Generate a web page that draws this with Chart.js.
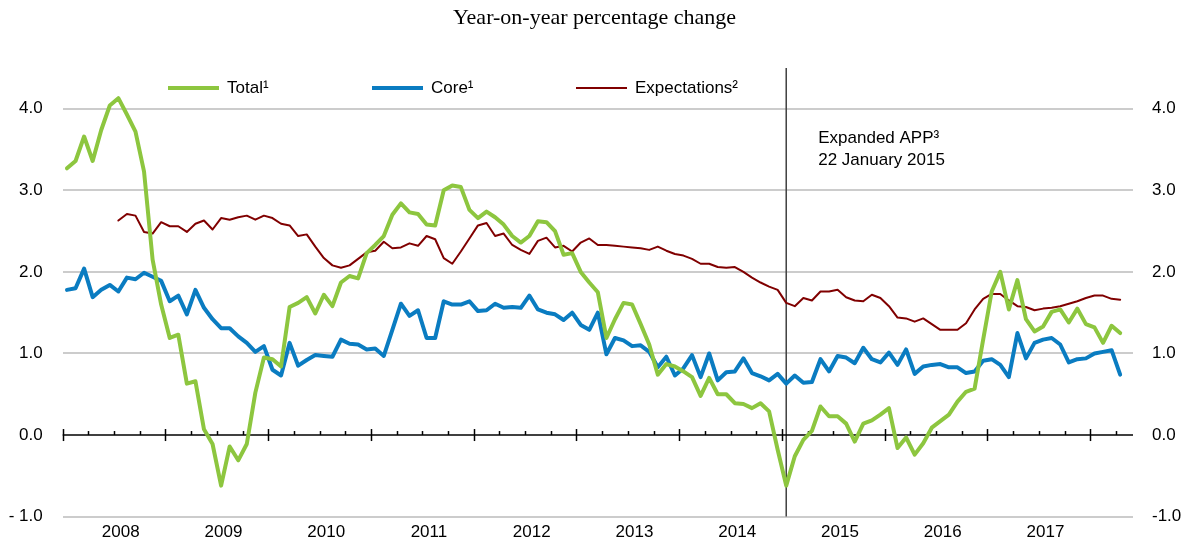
<!DOCTYPE html>
<html>
<head>
<meta charset="utf-8">
<script src="https://cdn.jsdelivr.net/npm/chart.js@4.4.1/dist/chart.umd.min.js"></script>
<style>
  html, body { margin: 0; padding: 0; background: #ffffff; }
  #wrap { width: 1189px; height: 547px; }
</style>
</head>
<body>
<div id="wrap"><canvas id="c" width="1189" height="547"></canvas></div>
<script>
// ---- data (monthly, Jan 2008 .. Apr 2018) ----
const yearLabels = ['2008','2009','2010','2011','2012','2013','2014','2015','2016','2017'];
const seriesNames = ['Total\u00B9', 'Core\u00B9', 'Expectations\u00B2'];

const totalValues = [
  3.27, 3.36, 3.66, 3.36, 3.74, 4.04, 4.13, 3.93, 3.72, 3.23,
  2.15, 1.60, 1.19, 1.23, 0.63, 0.66, 0.07, -0.11, -0.62, -0.14,
  -0.31, -0.11, 0.52, 0.95, 0.93, 0.84, 1.57, 1.62, 1.69, 1.49,
  1.72, 1.58, 1.87, 1.95, 1.92, 2.23, 2.33, 2.44, 2.70, 2.84,
  2.73, 2.71, 2.58, 2.57, 3.00, 3.06, 3.04, 2.76, 2.66, 2.74,
  2.67, 2.58, 2.44, 2.36, 2.44, 2.62, 2.61, 2.50, 2.21, 2.23,
  2.00, 1.87, 1.75, 1.19, 1.42, 1.62, 1.60, 1.36, 1.11, 0.74,
  0.87, 0.84, 0.78, 0.71, 0.48, 0.70, 0.50, 0.50, 0.39, 0.38,
  0.33, 0.39, 0.29, -0.18, -0.62, -0.26, -0.06, 0.05, 0.35, 0.23,
  0.23, 0.14, -0.08, 0.14, 0.18, 0.25, 0.33, -0.16, -0.03, -0.24,
  -0.10, 0.09, 0.17, 0.25, 0.41, 0.53, 0.57, 1.17, 1.76, 2.00,
  1.54, 1.90, 1.42, 1.27, 1.33, 1.51, 1.54, 1.38, 1.55, 1.36,
  1.32, 1.13, 1.34, 1.25
];

const coreValues = [
  1.78, 1.80, 2.04, 1.69, 1.78, 1.84, 1.76, 1.93, 1.91, 1.99,
  1.94, 1.89, 1.64, 1.71, 1.48, 1.78, 1.56, 1.42, 1.31, 1.31,
  1.21, 1.13, 1.02, 1.09, 0.80, 0.73, 1.13, 0.85, 0.92, 0.98,
  0.97, 0.96, 1.17, 1.12, 1.11, 1.05, 1.06, 0.97, 1.29, 1.61,
  1.46, 1.53, 1.19, 1.19, 1.64, 1.60, 1.60, 1.64, 1.52, 1.53,
  1.61, 1.56, 1.57, 1.56, 1.71, 1.54, 1.50, 1.48, 1.41, 1.50,
  1.35, 1.29, 1.50, 0.99, 1.19, 1.16, 1.09, 1.10, 1.02, 0.83,
  0.96, 0.73, 0.82, 0.98, 0.71, 1.00, 0.67, 0.77, 0.78, 0.94,
  0.76, 0.72, 0.67, 0.75, 0.63, 0.73, 0.64, 0.65, 0.93, 0.78,
  0.97, 0.95, 0.88, 1.07, 0.93, 0.89, 1.01, 0.86, 1.05, 0.75,
  0.84, 0.86, 0.87, 0.83, 0.83, 0.76, 0.78, 0.91, 0.93, 0.86,
  0.71, 1.25, 0.94, 1.13, 1.17, 1.19, 1.11, 0.89, 0.93, 0.94,
  1.00, 1.02, 1.04, 0.74
];

const expectationsValues = [
  null, null, null, null, null, null, 2.63, 2.71, 2.69, 2.49,
  2.47, 2.61, 2.56, 2.56, 2.49, 2.59, 2.63, 2.52, 2.66, 2.64,
  2.67, 2.69, 2.64, 2.69, 2.66, 2.59, 2.57, 2.44, 2.46, 2.31,
  2.17, 2.08, 2.05, 2.08, 2.16, 2.24, 2.26, 2.37, 2.29, 2.30,
  2.35, 2.32, 2.44, 2.40, 2.17, 2.10, 2.25, 2.41, 2.57, 2.60,
  2.44, 2.47, 2.33, 2.27, 2.22, 2.38, 2.42, 2.30, 2.32, 2.25,
  2.36, 2.41, 2.33, 2.33, 2.32, 2.31, 2.30, 2.29, 2.27, 2.31,
  2.26, 2.22, 2.20, 2.16, 2.10, 2.10, 2.06, 2.05, 2.06, 2.00,
  1.93, 1.87, 1.82, 1.78, 1.62, 1.58, 1.68, 1.65, 1.76, 1.76,
  1.78, 1.69, 1.65, 1.64, 1.72, 1.68, 1.58, 1.44, 1.43, 1.39,
  1.43, 1.36, 1.29, 1.29, 1.29, 1.37, 1.54, 1.67, 1.73, 1.73,
  1.65, 1.58, 1.57, 1.53, 1.55, 1.56, 1.58, 1.61, 1.64, 1.68,
  1.71, 1.71, 1.67, 1.66
];

const yTickValues = [-1, 0, 1, 2, 3, 4];
const eventMonthIndex = 84;           // January 2015
const eventLines = ['Expanded APP\u00B3', '22 January 2015'];

// ---- helpers ----
const toPoints = arr => arr.map((v, i) => ({ x: i + 0.5, y: v }));
const FONT = "'Liberation Sans', Arial, sans-serif";
const colors = ['#8dc63f', '#0a7cc1', '#800000'];
const widths = [4, 4, 2];

const decor = {
  id: 'decor',
  beforeDatasetsDraw(chart) {
    const ctx = chart.ctx, xs = chart.scales.x, ys = chart.scales.y, ca = chart.chartArea;
    const y0 = ys.getPixelForValue(0);
    ctx.save();
    // vertical event line
    const ex = xs.getPixelForValue(eventMonthIndex + 0.5);
    ctx.strokeStyle = '#404040';
    ctx.lineWidth = 1.5;
    ctx.beginPath(); ctx.moveTo(ex, ca.top); ctx.lineTo(ex, ca.bottom); ctx.stroke();
    // zero axis
    ctx.strokeStyle = '#000000';
    ctx.lineWidth = 1.5;
    ctx.beginPath(); ctx.moveTo(ca.left, y0); ctx.lineTo(ca.right, y0); ctx.stroke();
    for (let m = 0; m <= xs.max; m += 3) {
      const px = Math.round(xs.getPixelForValue(m)) + 0.5;
      ctx.beginPath();
      if (m % 12 === 0) { ctx.moveTo(px, y0 - 6); ctx.lineTo(px, y0 + 6); }
      else { ctx.moveTo(px, y0 - 4); ctx.lineTo(px, y0); }
      ctx.stroke();
    }
    ctx.restore();
  },
  afterDraw(chart) {
    const ctx = chart.ctx, xs = chart.scales.x;
    ctx.save();
    // annotation
    const ex = xs.getPixelForValue(eventMonthIndex + 0.5);
    ctx.fillStyle = '#000000';
    ctx.font = '17px ' + FONT;
    ctx.textBaseline = 'middle';
    ctx.textAlign = 'left';
    eventLines.forEach((t, i) => ctx.fillText(t, ex + 32, 138 + i * 22));
    // legend
    chart.data.datasets.forEach((ds, i) => {
      const x0 = 168 + i * 204, y = 88;
      ctx.strokeStyle = ds.borderColor;
      ctx.lineWidth = ds.borderWidth;
      ctx.beginPath(); ctx.moveTo(x0, y); ctx.lineTo(x0 + 51, y); ctx.stroke();
      ctx.fillStyle = '#000000';
      ctx.fillText(ds.label, x0 + 59, y);
    });
    ctx.restore();
  }
};

new Chart(document.getElementById('c'), {
  type: 'line',
  data: {
    datasets: [
      { label: seriesNames[0], data: toPoints(totalValues), borderColor: colors[0], borderWidth: widths[0], order: 1 },
      { label: seriesNames[1], data: toPoints(coreValues), borderColor: colors[1], borderWidth: widths[1], order: 2 },
      { label: seriesNames[2], data: toPoints(expectationsValues), borderColor: colors[2], borderWidth: widths[2], order: 3 }
    ].map(d => Object.assign(d, { pointRadius: 0, tension: 0, fill: false, borderJoinStyle: 'round', borderCapStyle: 'round', spanGaps: false }))
  },
  options: {
    responsive: false,
    animation: false,
    events: [],
    layout: { padding: 0 },
    plugins: {
      legend: { display: false },
      tooltip: { enabled: false },
      title: {
        display: true,
        text: 'Year-on-year percentage change',
        color: '#000000',
        font: { family: "'Liberation Serif', 'Times New Roman', serif", size: 22, weight: 'normal', lineHeight: 1.2 },
        padding: { top: 5, bottom: 36.6 }
      }
    },
    scales: {
      x: {
        type: 'linear', position: 'bottom', min: 0, max: 125,
        grid: { display: false, drawTicks: false },
        border: { display: false },
        afterBuildTicks: s => { s.ticks = yearLabels.map((_, i) => ({ value: i * 12 })); },
        afterFit: s => { s.height = 30.4; },
        ticks: {
          autoSkip: false, maxRotation: 0, minRotation: 0, labelOffset: 58, padding: 6,
          color: '#000000', font: { family: FONT, size: 17 },
          callback: v => yearLabels[Math.round(v / 12)] || ''
        }
      },
      y: {
        type: 'linear', position: 'left', min: -1, max: 4.5,
        afterBuildTicks: s => { s.ticks = yTickValues.map(v => ({ value: v })); },
        afterFit: s => { s.width = 62.7; },
        grid: { drawTicks: false, lineWidth: 2, color: c => (c.tick && c.tick.value === 0) ? 'rgba(0,0,0,0)' : '#cccccc' },
        border: { display: false },
        ticks: {
          padding: 20, color: '#000000', font: { family: FONT, size: 17 },
          callback: v => v < 0 ? '- ' + Math.abs(v).toFixed(1) : v.toFixed(1)
        }
      },
      y2: {
        type: 'linear', position: 'right', min: -1, max: 4.5,
        afterBuildTicks: s => { s.ticks = yTickValues.map(v => ({ value: v })); },
        afterFit: s => { s.width = 56; },
        grid: { display: false, drawTicks: false },
        border: { display: false },
        ticks: {
          padding: 19, color: '#000000', font: { family: FONT, size: 17 },
          callback: v => v.toFixed(1)
        }
      }
    }
  },
  plugins: [decor]
});
</script>
</body>
</html>
